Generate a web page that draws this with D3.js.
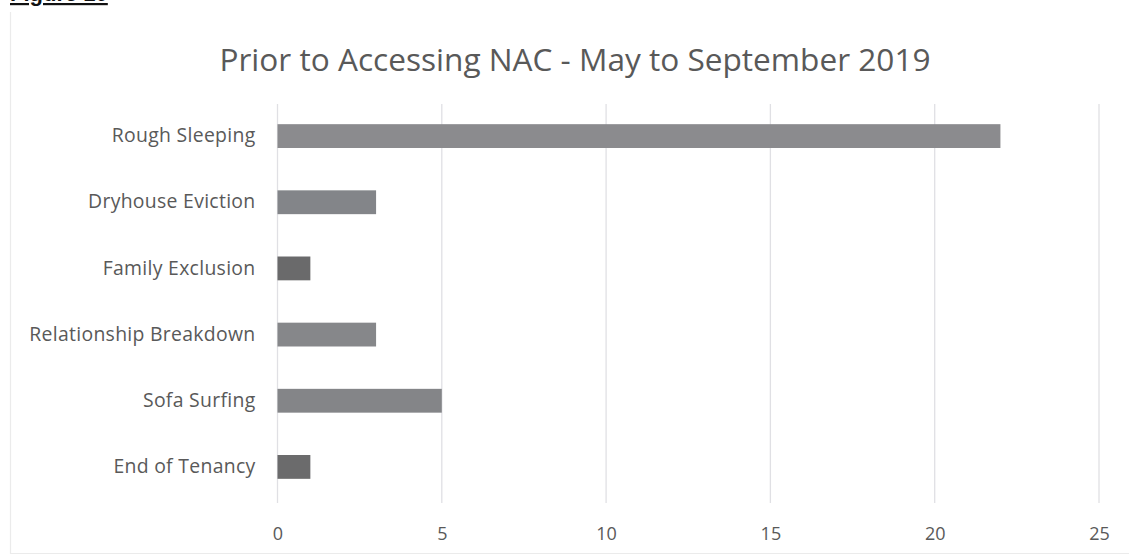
<!DOCTYPE html>
<html>
<head>
<meta charset="utf-8">
<script src="https://cdn.jsdelivr.net/npm/d3@7"></script>
<style>
  html, body { margin: 0; padding: 0; background: #fff; }
  svg { display: block; }
</style>
</head>
<body>
<svg id="chart" width="1129" height="555"></svg>
<script>
// Reasons recorded prior to accessing NAC (May–September 2019)
const categories = [
  "Rough Sleeping",
  "Dryhouse Eviction",
  "Family Exclusion",
  "Relationship Breakdown",
  "Sofa Surfing",
  "End of Tenancy"
];
const counts = [22, 3, 1, 3, 5, 1];
const xTicks = [0, 5, 10, 15, 20, 25];
const chartTitle = "Prior to Accessing NAC - May to September 2019";
const figureLabel = "Figure 10";

const svg = d3.select("#chart");
const W = 1129, H = 555;
const margin = { left: 277.5, right: 30, top: 103, bottom: 52 };

// Chart frame (left and bottom edges)
svg.append("path")
  .attr("d", `M10.5,12 V553.5 H${W}`)
  .attr("fill", "none").attr("stroke", "#ebebeb").attr("stroke-width", 1.2);

// Figure caption (sits above the frame)
svg.append("text")
  .attr("x", 10).attr("y", 1)
  .attr("font-family", "Liberation Sans, Arial, sans-serif")
  .attr("font-weight", "bold").attr("font-size", 22)
  .attr("fill", "#111")
  .attr("text-decoration", "underline")
  .text(figureLabel);

const x = d3.scaleLinear().domain([0, 25]).range([margin.left, 1099]);
const y = d3.scaleBand().domain(categories).range([103, 500]).paddingInner(0.64).paddingOuter(0.32);

// Vertical gridlines
svg.append("g")
  .selectAll("line")
  .data(xTicks)
  .join("line")
  .attr("x1", d => x(d)).attr("x2", d => x(d))
  .attr("y1", 104).attr("y2", 503)
  .attr("stroke", "#e0e0e4").attr("stroke-width", 1.3);

// X axis tick labels
const xAxis = d3.axisBottom(x).tickValues(xTicks).tickSize(0).tickPadding(0);
const gx = svg.append("g").attr("transform", "translate(0,527)").call(xAxis);
gx.select(".domain").remove();
gx.selectAll("text")
  .attr("font-family", "Open Sans, sans-serif")
  .attr("font-size", 18)
  .attr("fill", "#595959");

// Y axis category labels
const yAxis = d3.axisLeft(y).tickSize(0).tickPadding(22);
const gy = svg.append("g").attr("transform", `translate(${margin.left},0)`).call(yAxis);
gy.select(".domain").remove();
gy.selectAll("text")
  .attr("font-family", "Open Sans, sans-serif")
  .attr("font-size", 19.4)
  .attr("letter-spacing", 0.3)
  .attr("fill", "#595959");

// Bars
const barShade = d3.scaleOrdinal()
  .domain(categories)
  .range(["#8b8b8e", "#838589", "#6a6a6b", "#86878a", "#848588", "#6b6b6c"]);

svg.append("g")
  .selectAll("rect")
  .data(categories.map((c, i) => ({ cat: c, v: counts[i] })))
  .join("rect")
  .attr("x", x(0))
  .attr("y", d => y(d.cat))
  .attr("width", d => x(d.v) - x(0))
  .attr("height", y.bandwidth())
  .attr("fill", d => barShade(d.cat));

// Title
svg.append("text")
  .attr("x", 575).attr("y", 71)
  .attr("text-anchor", "middle")
  .attr("font-family", "Open Sans, sans-serif")
  .attr("font-size", 31.6)
  .attr("fill", "#595959")
  .text(chartTitle);
</script>
</body>
</html>
